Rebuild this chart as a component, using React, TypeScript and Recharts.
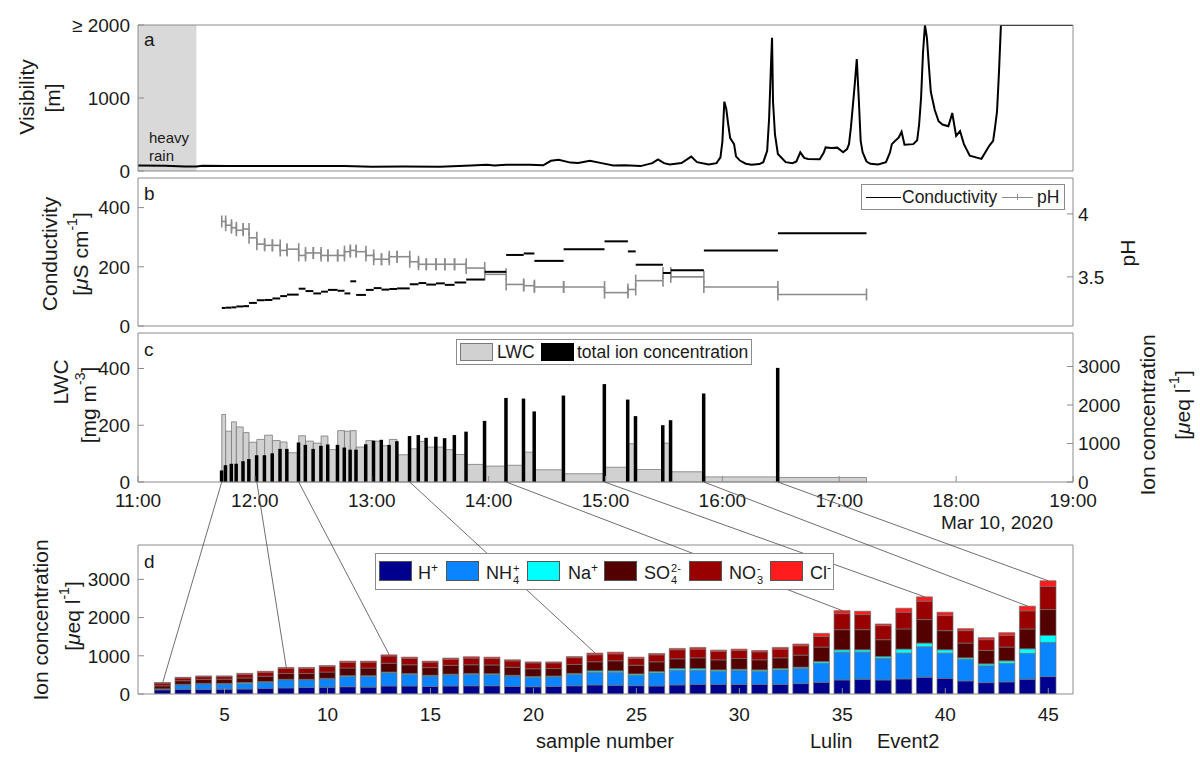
import React from "react";
import {
  ComposedChart,
  Line,
  Bar,
  Scatter,
  ErrorBar,
  XAxis,
  YAxis,
  ReferenceArea,
} from "recharts";

// ---------- panel a: visibility (minutes after 11:00, metres) ----------
const visMinute = [
  0, 14, 24, 30, 33, 47, 67, 87, 106, 120, 136, 155, 171, 179, 183, 189, 201, 208, 212, 216, 222, 226,
  232, 238, 244, 250, 258, 264, 267, 270, 273, 279, 284, 287, 293, 297, 299, 300, 301, 302, 303, 304,
  306, 307, 309, 312, 315, 319, 321, 323, 324, 325, 325.5, 326, 327, 328.5, 332.5, 336, 338, 340, 342,
  344, 350, 352, 353, 356, 359, 362, 364, 365, 366, 367, 368, 369, 370, 371, 372, 374, 376, 380, 384,
  386, 387, 389, 390.5, 392, 393.5, 398, 400, 401, 402, 403, 404, 405, 406, 407, 409, 411, 413, 416,
  417, 418, 420, 422, 424, 427, 433, 437, 439, 440, 441, 442, 443, 480,
];
const visMetres = [
  76, 72, 60, 62, 72, 67, 70, 67, 70, 58, 62, 58, 75, 85, 75, 85, 85, 78, 140, 155, 115, 110,
  140, 108, 76, 80, 67, 108, 160, 108, 90, 108, 197, 121, 90, 108, 188, 400, 950, 850, 637, 450,
  368, 200, 143, 100, 85, 95, 121, 278, 726, 1488, 1825, 950, 502, 233, 121, 108, 130, 256, 180,
  166, 160, 250, 323, 315, 320, 256, 300, 368, 600, 900, 1200, 1533, 1000, 413, 256, 130, 99, 90, 121,
  250, 368, 420, 457, 538, 359, 368, 420, 637, 1000, 1623, 2000, 1825, 1444, 1085, 838, 682, 637, 614,
  700, 794, 480, 547, 368, 211, 166, 345, 413, 600, 816, 1354, 2000, 2000,
];
const heavyRainEndMin = 30;

// ---------- samples (start in minutes after 11:00) ----------
const sampleNumber = [
  2, 3, 4, 5, 6, 7, 8, 9, 10, 11, 12, 13, 14, 15, 16, 17, 18, 19, 20, 21, 22, 23,
  24, 25, 26, 27, 28, 29, 30, 31, 32, 33, 34, 35, 36, 37, 38, 39, 40, 41, 42, 43, 44, 45,
];
const sampleStartMin = [
  43, 45, 48, 50.5, 54, 57, 61, 65, 69, 73, 76.5, 82.5, 86, 90, 94, 97.5, 102.5, 106, 109, 112, 117, 121,
  125, 129, 133, 139.5, 144, 148, 153, 157.5, 162.5, 168.5, 178, 189, 198, 203.5, 218.5, 239.5, 251.5,
  255.5, 269.5, 273.5, 290.5, 328.5,
];
const lastSampleEndMin = 374;

// panel b
const conductivity = [
  61, 62, 63, 66, 67, 78, 87, 88, 93, 101, 106, 126, 118, 110, 116, 122, 119, 110, 151, 105, 122, 128,
  123, 125, 127, 141, 145, 140, 144, 139, 147, 157, 183, 240, 245, 220, 259, 286, 252, 207, 179, 188, 255, 313,
];
const pH = [
  3.94, 3.91, 3.89, 3.87, 3.88, 3.81, 3.76, 3.75, 3.75, 3.71, 3.72, 3.67, 3.69, 3.69, 3.67, 3.67, 3.67,
  3.7, 3.71, 3.7, 3.67, 3.64, 3.64, 3.66, 3.66, 3.62, 3.6, 3.6, 3.6, 3.6, 3.6, 3.57, 3.52, 3.44, 3.43,
  3.42, 3.42, 3.375, 3.4, 3.47, 3.53, 3.5, 3.42, 3.36,
];

// panel c
const lwc = [
  238, 179, 212, 194, 174, 140, 150, 165, 146, 141, 103, 163, 144, 137, 162, 114, 181, 179, 181, 123, 146, 144,
  128, 150, 96, 117, 143, 123, 123, 114, 97, 62, 56, 59, 105, 43, 29, 52, 135, 44, 137, 36, 18, 16,
];

// panel d (µeq/l)
const ionH = [
  110, 123, 123, 125, 130, 150, 160, 170, 175, 190, 180, 210, 210, 200, 210, 215, 215, 200, 190, 200, 215, 237,
  228, 219, 210, 237, 254, 254, 254, 254, 254, 272, 307, 368, 386, 368, 395, 439, 412, 342, 298, 316, 386, 456,
];
const ionNH4 = [
  20, 114, 140, 135, 140, 160, 210, 200, 220, 270, 280, 340, 300, 270, 290, 295, 290, 270, 250, 250, 300, 325,
  342, 272, 342, 386, 368, 342, 360, 342, 377, 395, 500, 728, 711, 570, 675, 798, 658, 561, 439, 482, 675, 895,
];
const ionNa = [
  5, 15, 15, 18, 30, 15, 15, 15, 15, 20, 20, 25, 25, 20, 20, 25, 25, 20, 20, 20, 25, 44,
  35, 35, 35, 44, 44, 35, 35, 35, 35, 35, 44, 61, 61, 44, 105, 96, 88, 44, 53, 70, 123, 184,
];
const ionSO4 = [
  80, 96, 105, 110, 120, 140, 150, 150, 165, 200, 200, 230, 230, 200, 230, 230, 230, 210, 200, 195, 235, 237,
  263, 228, 254, 254, 281, 263, 281, 263, 281, 316, 377, 526, 526, 439, 526, 614, 500, 386, 351, 360, 518, 675,
];
const ionNO3 = [
  70, 70, 70, 68, 95, 105, 135, 135, 145, 150, 155, 190, 170, 145, 160, 175, 170, 165, 155, 150, 175, 184,
  184, 175, 184, 237, 228, 219, 210, 210, 228, 246, 281, 421, 395, 368, 439, 482, 395, 325, 281, 307, 474, 605,
];
const ionCl = [
  15, 18, 20, 18, 25, 25, 25, 25, 25, 30, 25, 30, 30, 25, 30, 35, 35, 30, 25, 25, 30, 44,
  44, 35, 35, 35, 44, 35, 35, 35, 44, 44, 79, 79, 88, 44, 105, 114, 88, 53, 53, 70, 123, 149,
];

// lines linking a sample in panel c to its bar in panel d
const links = [
  [2, 2], [8, 8], [13, 13], [27, 23], [35, 35], [39, 39], [44, 44], [45, 45],
];

const timeTicks = [0, 60, 120, 180, 240, 300, 360, 420, 480];
const sampleTicks = [5, 10, 15, 20, 25, 30, 35, 40, 45];

// ---------- layout ----------
const FONT = '"Liberation Sans", Arial, Helvetica, sans-serif';
const INK = "#1a1a1a";
const BOX = "#8c8c8c";
const W = 1200;
const H = 768;
const LEFT = 138;
const RIGHT = 1073;
const PANEL_A = [25, 171];
const PANEL_B = [178, 326];
const PANEL_C = [333, 482];
const PANEL_D = [545, 694];
const TIME_DOMAIN = [0, 480];
const SAMPLE_DOMAIN = [0.8, 46.2];
const ION_MAX_C = 3870;
const ION_MAX_D = 3900;

const ION_COLORS = {
  h: "#00008f",
  nh4: "#0a84ff",
  na: "#00ffff",
  so4: "#520000",
  no3: "#990000",
  cl: "#ff1c1c",
};

const tickText = { fill: INK, fontSize: 19, fontFamily: FONT };
const clock = (m: number) => `${11 + m / 60}:00`;

const visData = visMinute.map((t, i) => ({ t, v: visMetres[i] }));

const intervals = sampleStartMin.map((start, i) => {
  const end = i + 1 < sampleStartMin.length ? sampleStartMin[i + 1] : lastSampleEndMin;
  return {
    n: sampleNumber[i],
    start,
    end,
    mid: (start + end) / 2,
    half: (end - start) / 2,
    cond: conductivity[i],
    ph: pH[i],
    lwc: lwc[i],
    total: ionH[i] + ionNH4[i] + ionNa[i] + ionSO4[i] + ionNO3[i] + ionCl[i],
  };
});

const ionData = sampleNumber.map((n, i) => ({
  n,
  h: ionH[i],
  nh4: ionNH4[i],
  na: ionNa[i],
  so4: ionSO4[i],
  no3: ionNO3[i],
  cl: ionCl[i],
}));

// x axes are 1px tall (a 0px axis is not drawn), so the margins give that pixel back
const margin = (p: number[]) => ({ top: p[0] - 1, bottom: H - p[1] - 1, left: 0, right: 0 });

function xAxes(key: string, domain: number[], ticks: number[], labels: boolean, margin: number, fmt?: (v: number) => string) {
  return [
    <XAxis
      key="xb"
      xAxisId="x"
      dataKey={key}
      type="number"
      domain={domain}
      ticks={ticks}
      interval={0}
      height={1}
      allowDataOverflow
      axisLine={{ stroke: BOX }}
      tickLine={{ stroke: BOX }}
      tickSize={-6}
      tickMargin={margin}
      tick={labels ? tickText : false}
      tickFormatter={fmt}
    />,
    <XAxis
      key="xt"
      xAxisId="xt"
      orientation="top"
      type="number"
      domain={domain}
      ticks={ticks}
      interval={0}
      height={1}
      allowDataOverflow
      axisLine={{ stroke: BOX }}
      tickLine={{ stroke: BOX }}
      tickSize={-6}
      tick={false}
    />,
  ];
}

const timeAxes = (key: string, labels: boolean) => xAxes(key, TIME_DOMAIN, timeTicks, labels, 18, clock);

function yAxis(
  id: string,
  side: "left" | "right",
  domain: number[],
  ticks: number[],
  labels: boolean,
  fmt?: (v: number) => string
) {
  return (
    <YAxis
      key={id}
      yAxisId={id}
      orientation={side}
      width={side === "left" ? LEFT : W - RIGHT}
      type="number"
      domain={domain}
      ticks={ticks}
      interval={0}
      allowDataOverflow
      axisLine={{ stroke: BOX }}
      tickLine={{ stroke: BOX }}
      tickSize={-6}
      tickMargin={side === "left" ? 14 : 11}
      tick={labels ? tickText : false}
      tickFormatter={fmt}
    />
  );
}

const layer: React.CSSProperties = { position: "absolute", left: 0, top: 0 };

function PanelA() {
  return (
    <div style={layer}>
      <ComposedChart width={W} height={H} margin={margin(PANEL_A)} data={visData}>
        {timeAxes("t", false)}
        {yAxis("l", "left", [0, 2000], [0, 1000, 2000], true, (v) => (v === 2000 ? "≥ 2000" : String(v)))}
        {yAxis("r", "right", [0, 2000], [0, 1000, 2000], false)}
        <ReferenceArea
          xAxisId="x"
          yAxisId="l"
          x1={0}
          x2={heavyRainEndMin}
          y1={0}
          y2={2000}
          fill="#d9d9d9"
          fillOpacity={1}
          stroke="none"
        />
        <Line
          xAxisId="x"
          yAxisId="l"
          dataKey="v"
          type="linear"
          stroke="#000"
          strokeWidth={2}
          dot={false}
          isAnimationActive={false}
        />
      </ComposedChart>
    </div>
  );
}

function PanelB() {
  return (
    <div style={layer}>
      <ComposedChart width={W} height={H} margin={margin(PANEL_B)} data={intervals}>
        {timeAxes("mid", false)}
        {yAxis("l", "left", [0, 500], [0, 200, 400], true)}
        {yAxis("r", "right", [3.11, 4.285], [3.5, 4], true)}
        <Scatter xAxisId="x" yAxisId="r" dataKey="ph" shape={() => <g />} isAnimationActive={false}>
          <ErrorBar dataKey="half" direction="x" width={6} stroke="#8c8c8c" strokeWidth={1.6} />
        </Scatter>
        <Scatter xAxisId="x" yAxisId="l" dataKey="cond" shape={() => <g />} isAnimationActive={false}>
          <ErrorBar dataKey="half" direction="x" width={0} stroke="#000" strokeWidth={2} />
        </Scatter>
      </ComposedChart>
    </div>
  );
}

function PanelC() {
  return (
    <div style={layer}>
      <ComposedChart width={W} height={H} margin={margin(PANEL_C)} data={intervals}>
        {timeAxes("start", true)}
        {yAxis("l", "left", [0, 525], [0, 200, 400], true)}
        {yAxis("r", "right", [0, ION_MAX_C], [0, 1000, 2000, 3000], true)}
        {intervals.map((s) => (
          <ReferenceArea
            key={s.n}
            xAxisId="x"
            yAxisId="l"
            x1={s.start}
            x2={s.end}
            y1={0}
            y2={s.lwc}
            fill="#d1d1d1"
            fillOpacity={1}
            stroke="#7a7a7a"
            strokeWidth={0.8}
          />
        ))}
        <Bar xAxisId="x" yAxisId="r" dataKey="total" fill="#000" barSize={4} isAnimationActive={false} />
      </ComposedChart>
    </div>
  );
}

function PanelD() {
  const keys = ["h", "nh4", "na", "so4", "no3", "cl"] as const;
  return (
    <div style={layer}>
      <ComposedChart width={W} height={H} margin={margin(PANEL_D)} data={ionData}>
        {xAxes("n", SAMPLE_DOMAIN, sampleTicks, true, 20)}
        {yAxis("l", "left", [0, ION_MAX_D], [0, 1000, 2000, 3000], true)}
        {yAxis("r", "right", [0, ION_MAX_D], [0, 1000, 2000, 3000], false)}
        {keys.map((k) => (
          <Bar
            key={k}
            xAxisId="x"
            yAxisId="l"
            dataKey={k}
            stackId="ions"
            fill={ION_COLORS[k]}
            stroke="#6e6e6e"
            strokeWidth={0.7}
            barSize={16}
            isAnimationActive={false}
          />
        ))}
      </ComposedChart>
    </div>
  );
}

// pixel position helpers, same domains/plot areas as the charts above
const cX = (m: number) => LEFT + ((m - TIME_DOMAIN[0]) / (TIME_DOMAIN[1] - TIME_DOMAIN[0])) * (RIGHT - LEFT);
const dX = (n: number) =>
  LEFT + ((n - SAMPLE_DOMAIN[0]) / (SAMPLE_DOMAIN[1] - SAMPLE_DOMAIN[0])) * (RIGHT - LEFT);
const dY = (v: number) => PANEL_D[1] - (v / ION_MAX_D) * (PANEL_D[1] - PANEL_D[0]);

function Links() {
  return (
    <svg width={W} height={H} style={layer}>
      {links.map(([cs, ds]) => {
        const c = intervals.find((s) => s.n === cs)!;
        const d = intervals.find((s) => s.n === ds)!;
        return (
          <line
            key={`${cs}-${ds}`}
            x1={cX(c.start)}
            y1={PANEL_C[1]}
            x2={dX(ds)}
            y2={dY(d.total)}
            stroke="#4a4a4a"
            strokeWidth={0.8}
          />
        );
      })}
    </svg>
  );
}

function VText({ x, y, children }: { x: number; y: number; children: React.ReactNode }) {
  return (
    <text transform={`translate(${x},${y}) rotate(-90)`} textAnchor="middle" dominantBaseline="central" fontSize={21}>
      {children}
    </text>
  );
}

const mu = <tspan fontStyle="italic">μ</tspan>;
const sup = (s: string) => (
  <>
    <tspan dy={-8} fontSize={14}>
      {s}
    </tspan>
    <tspan dy={8}>]</tspan>
  </>
);

function Labels() {
  return (
    <svg width={W} height={H} style={layer} fontFamily={FONT} fill={INK}>
      <VText x={26} y={97}>Visibility</VText>
      <VText x={52} y={98}>[m]</VText>
      <VText x={49} y={254}>Conductivity</VText>
      <VText x={80} y={254}>
        [{mu}S cm{sup("-1")}
      </VText>
      <VText x={1127} y={253}>pH</VText>
      <VText x={60} y={382}>LWC</VText>
      <VText x={88} y={405}>
        [mg m{sup("-3")}
      </VText>
      <VText x={1147} y={415}>Ion concentration</VText>
      <VText x={1182} y={405}>
        [{mu}eq l{sup("-1")}
      </VText>
      <VText x={40} y={620}>Ion concentration</VText>
      <VText x={72} y={616}>
        [{mu}eq l{sup("-1")}
      </VText>

      <g fontSize={19}>
        <text x={144} y={46}>a</text>
        <text x={144} y={200}>b</text>
        <text x={144} y={356}>c</text>
        <text x={144} y={568}>d</text>
      </g>
      <g fontSize={15}>
        <text x={149} y={143}>heavy</text>
        <text x={149} y={161}>rain</text>
      </g>
      <text x={997} y={529} fontSize={19} textAnchor="middle">
        Mar 10, 2020
      </text>
      <text x={605} y={748} fontSize={20} textAnchor="middle">
        sample number
      </text>
      <text x={810} y={748} fontSize={20}>
        Lulin
      </text>
      <text x={877} y={748} fontSize={20}>
        Event2
      </text>
    </svg>
  );
}

const legendBox: React.CSSProperties = {
  position: "absolute",
  background: "#fff",
  border: `1px solid ${BOX}`,
  boxSizing: "border-box",
  fontFamily: FONT,
  fontSize: 17.5,
  color: INK,
};
const at = (left: number, top: number, extra: React.CSSProperties = {}): React.CSSProperties => ({
  position: "absolute",
  left,
  top,
  lineHeight: 1,
  whiteSpace: "nowrap",
  ...extra,
});

// superscript over subscript, as in NH4+
function Stack({ top, bottom }: { top: string; bottom: string }) {
  return (
    <span
      style={{
        display: "inline-flex",
        flexDirection: "column",
        fontSize: 11,
        lineHeight: "12px",
        verticalAlign: 7,
        marginLeft: 1,
      }}
    >
      <span>{top}</span>
      <span>{bottom}</span>
    </span>
  );
}

function Legends() {
  const swatch = (left: number, color: string): React.CSSProperties =>
    at(left, 7, { width: 33, height: 20, background: color, border: "1px solid #555", boxSizing: "border-box" });
  return (
    <>
      {/* panel b */}
      <div style={{ ...legendBox, left: 861, top: 184, width: 204, height: 26 }}>
        <div style={at(4, 12, { width: 35, height: 0, borderTop: "1.5px solid #000" })} />
        <div style={at(40, 4)}>Conductivity</div>
        <div style={at(140, 12, { width: 31, height: 0, borderTop: "1.5px solid #8c8c8c" })} />
        <div style={at(155, 9, { width: 0, height: 6, borderLeft: "1.2px solid #8c8c8c" })} />
        <div style={at(175, 4)}>pH</div>
      </div>
      {/* panel c */}
      <div style={{ ...legendBox, left: 456, top: 339, width: 296, height: 26 }}>
        <div
          style={at(3, 3, {
            width: 33,
            height: 18,
            background: "#d1d1d1",
            border: "1px solid #7a7a7a",
            boxSizing: "border-box",
          })}
        />
        <div style={at(40, 4)}>LWC</div>
        <div style={at(84, 3, { width: 33, height: 18, background: "#000" })} />
        <div style={at(120, 4)}>total ion concentration</div>
      </div>
      {/* panel d */}
      <div style={{ ...legendBox, left: 375, top: 553, width: 459, height: 37, fontSize: 18 }}>
        <div style={swatch(3, ION_COLORS.h)} />
        <div style={at(42, 8)}>
          H<sup style={{ fontSize: 12 }}>+</sup>
        </div>
        <div style={swatch(70, ION_COLORS.nh4)} />
        <div style={at(110, 8)}>
          NH<Stack top="+" bottom="4" />
        </div>
        <div style={swatch(151, ION_COLORS.na)} />
        <div style={at(192, 8)}>
          Na<sup style={{ fontSize: 12 }}>+</sup>
        </div>
        <div style={swatch(228, ION_COLORS.so4)} />
        <div style={at(268, 8)}>
          SO<Stack top="2-" bottom="4" />
        </div>
        <div style={swatch(313, ION_COLORS.no3)} />
        <div style={at(353, 8)}>
          NO<Stack top="-" bottom="3" />
        </div>
        <div style={swatch(394, ION_COLORS.cl)} />
        <div style={at(434, 8)}>
          Cl<sup style={{ fontSize: 12 }}>-</sup>
        </div>
      </div>
    </>
  );
}

export default function App() {
  return (
    <div
      style={{ position: "absolute", left: 0, top: 0, width: W, height: H, background: "#fff", overflow: "hidden" }}
    >
      <PanelA />
      <PanelB />
      <PanelC />
      <PanelD />
      <Links />
      <Labels />
      <Legends />
    </div>
  );
}
